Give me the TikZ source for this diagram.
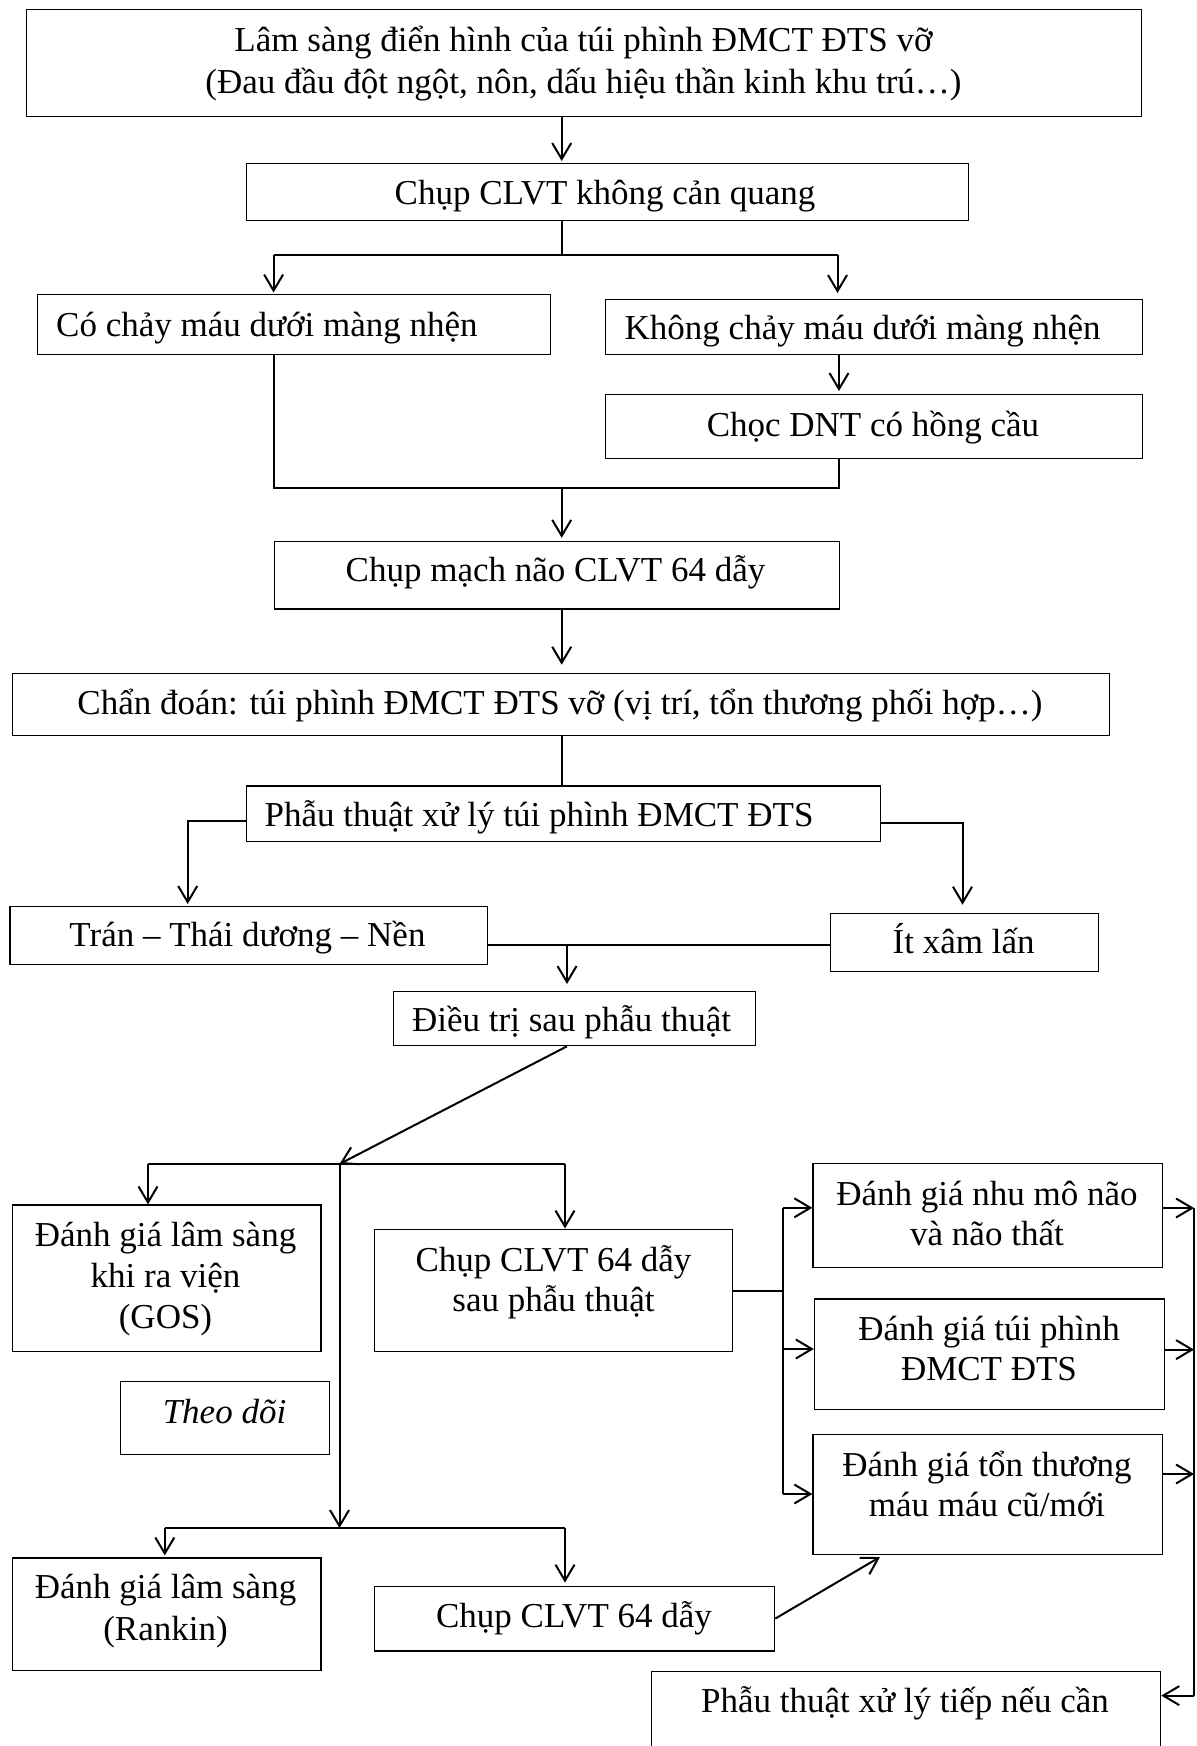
\documentclass[tikz,border=0pt]{standalone}
\usepackage{fontspec}
\setmainfont{Liberation Serif}
\usetikzlibrary{arrows.meta}
\tikzset{
  box/.style={draw, line width=1.3pt, inner sep=0pt, anchor=north west},
  txt/.style={inner sep=0pt, font=\fontsize{35}{41}\selectfont, align=center, anchor=base},
  ltxt/.style={txt, anchor=base west},
  conn/.style={line width=2pt},
  arr/.style={conn, -{Straight Barb[length=16pt,width=19pt]}},
}
\begin{document}
\begin{tikzpicture}[x=1pt, y=-1pt]
\path[use as bounding box] (0,0) rectangle (1197,1746);
\clip (0,0) rectangle (1197,1746);
\fill[white] (0,0) rectangle (1197,1746);
% boxes (multi-line text nodes: base = baseline of last line)
\node[box, minimum width=1115.5pt, minimum height=107.5pt] (top) at (25.5,8.5) {};
\node[txt, font=\fontsize{35}{42}\selectfont] (topt) at (583.5,93) {Lâm sàng điển hình của túi phình ĐMCT ĐTS vỡ\\(Đau đầu đột ngột, nôn, dấu hiệu thần kinh khu trú…)};
\node[box, minimum width=722pt, minimum height=57pt] (ct) at (246,162.5) {};
\node[txt] (ctt) at (605,204) {Chụp CLVT không cản quang};
\node[box, minimum width=513pt, minimum height=60pt] (co) at (37,294) {};
\node[ltxt] (cot) at (56,336) {Có chảy máu dưới màng nhện};
\node[box, minimum width=536.8pt, minimum height=55.5pt] (khong) at (605,298.5) {};
\node[ltxt] (khongt) at (624.5,339) {Không chảy máu dưới màng nhện};
\node[box, minimum width=536.8pt, minimum height=64pt] (choc) at (605,394) {};
\node[txt] (choct) at (873,436) {Chọc DNT có hồng cầu};
\node[box, minimum width=565pt, minimum height=67.6pt] (mach) at (274,540.8) {};
\node[txt] (macht) at (555.5,581) {Chụp mạch não CLVT 64 dẫy};
\node[box, minimum width=1097.3pt, minimum height=62pt] (chan) at (11.5,672.7) {};
\node[txt] (chant) at (560,714) {Chẩn đoán: túi phình ĐMCT ĐTS vỡ (vị trí, tổn thương phối hợp…)};
\node[box, minimum width=633.7pt, minimum height=55.9pt] (phau) at (246,785.2) {};
\node[ltxt] (phaut) at (264.4,826) {Phẫu thuật xử lý túi phình ĐMCT ĐTS};
\node[box, minimum width=477.4pt, minimum height=58pt] (tran) at (9.2,906) {};
\node[txt] (trant) at (247.5,946) {Trán – Thái dương – Nền};
\node[box, minimum width=268pt, minimum height=57.8pt] (it) at (830,912.7) {};
\node[txt] (itt) at (963.6,953) {Ít xâm lấn};
\node[box, minimum width=361.8pt, minimum height=54pt] (dieu) at (393,991) {};
\node[txt] (dieut) at (571.6,1031) {Điều trị sau phẫu thuật};
\node[box, minimum width=308.8pt, minimum height=146.3pt] (gos) at (11.5,1204.4) {};
\node[txt] (gost) at (165.5,1328.5) {Đánh giá lâm sàng\\khi ra viện\\(GOS)};
\node[box, minimum width=358pt, minimum height=122.2pt] (sau) at (374,1228.5) {};
\node[txt, font=\fontsize{35}{40}\selectfont] (saut) at (553.5,1311) {Chụp CLVT 64 dẫy\\sau phẫu thuật};
\node[box, minimum width=209pt, minimum height=73.5pt] (theo) at (120,1380.5) {};
\node[txt] (theot) at (224.5,1423) {\itshape Theo dõi};
\node[box, minimum width=349.4pt, minimum height=104.2pt] (nhu) at (812.3,1162.5) {};
\node[txt, font=\fontsize{35}{40}\selectfont] (nhut) at (987,1245) {Đánh giá nhu mô não\\và não thất};
\node[box, minimum width=350.2pt, minimum height=110.3pt] (tui) at (813.8,1298.2) {};
\node[txt, font=\fontsize{35}{40}\selectfont] (tuit) at (989,1380) {Đánh giá túi phình\\ĐMCT ĐTS};
\node[box, minimum width=349.4pt, minimum height=120.1pt] (ton) at (812.3,1433.5) {};
\node[txt, font=\fontsize{35}{40}\selectfont] (tont) at (987,1516.5) {Đánh giá tổn thương\\máu máu cũ/mới};
\node[box, minimum width=308.8pt, minimum height=112.6pt] (rankin) at (11.5,1557.4) {};
\node[txt, font=\fontsize{35}{42}\selectfont] (rankint) at (165.5,1640) {Đánh giá lâm sàng\\(Rankin)};
\node[box, minimum width=400pt, minimum height=64.6pt] (clvt) at (374,1585.6) {};
\node[txt] (clvtt) at (574,1627) {Chụp CLVT 64 dẫy};
\node[box, minimum width=509pt, minimum height=100pt] (tiep) at (651,1671) {};
\node[txt] (tiept) at (905,1712) {Phẫu thuật xử lý tiếp nếu cần};
% coordinates
\coordinate (c1) at (561.7,0);
\coordinate (s1) at (561.7,254.5);
\coordinate (s1l) at (273.6,254.5);
\coordinate (s1r) at (837.5,254.5);
\coordinate (k1) at (839,0);
\coordinate (m1) at (561.7,488);
\coordinate (pl) at (187.7,820.8);
\coordinate (pr) at (962.5,823);
\coordinate (tj) at (567,944.8);
\coordinate (h1) at (339.5,1164);
\coordinate (h1l) at (148,1164);
\coordinate (h1r) at (565,1164);
\coordinate (h2) at (339.5,1528);
\coordinate (h2l) at (164.8,1528);
\coordinate (h2r) at (565,1528);
\coordinate (v1) at (783,1290.6);
\coordinate (v1t) at (783,1207.8);
\coordinate (v1m) at (783,1349);
\coordinate (v1b) at (783,1494);
\coordinate (d1) at (880,1557);
\coordinate (r1) at (1194,1208);
\coordinate (r2) at (1194,1349.6);
\coordinate (r3) at (1194,1474);
\coordinate (r4) at (1194,1695.6);
% connectors
\draw[arr, shorten >=1.5pt] (top.south -| c1) -- (ct.north -| c1);
\draw[conn] (ct.south -| s1) -- (s1);
\draw[conn] (s1l) -- (s1r);
\draw[arr, shorten >=1.5pt] (s1l) -- (co.north -| s1l);
\draw[arr, shorten >=5.5pt] (s1r) -- (khong.north -| s1r);
\draw[arr, shorten >=3pt] (khong.south -| k1) -- (choc.north -| k1);
\draw[conn] (co.south -| s1l) -- (s1l |- m1) -- (k1 |- m1) -- (choc.south -| k1);
\draw[arr, shorten >=3pt] (m1) -- (mach.north -| m1);
\draw[arr, shorten >=8pt] (mach.south -| m1) -- (chan.north -| m1);
\draw[conn] (chan.south -| m1) -- (phau.north -| m1);
\draw[arr, shorten >=2pt] (phau.west |- pl) -- (pl) -- (tran.north -| pl);
\draw[arr, shorten >=8pt] (phau.east |- pr) -- (pr) -- (it.north -| pr);
\draw[conn] (tran.east |- tj) -- (it.west |- tj);
\draw[arr, shorten >=7pt] (tj) -- (dieu.north -| tj);
\draw[conn] (h1l) -- (h1r);
\draw[arr] (dieu.south -| tj) -- (h1);
\draw[arr] (h1l) -- (gos.north -| h1l);
\draw[arr] (h1r) -- (sau.north -| h1r);
\draw[arr] (h1) -- (h2);
\draw[conn] (h2l) -- (h2r);
\draw[arr, shorten >=2pt] (h2l) -- (rankin.north -| h2l);
\draw[arr, shorten >=3pt] (h2r) -- (clvt.north -| h2r);
\draw[conn] (sau.east |- v1) -- (v1);
\draw[conn] (v1t) -- (v1b);
\draw[arr] (v1t) -- (nhu.west |- v1t);
\draw[arr] (v1m) -- (tui.west |- v1m);
\draw[arr] (v1b) -- (ton.west |- v1b);
\draw[arr] (clvt.east) -- (d1);
\draw[arr] (nhu.east |- r1) -- (r1);
\draw[arr] (tui.east |- r2) -- (r2);
\draw[arr] (ton.east |- r3) -- (r3);
\draw[conn] (r1) -- (r4);
\draw[arr] (r4) -- (tiep.east |- r4);
\end{tikzpicture}
\end{document}
